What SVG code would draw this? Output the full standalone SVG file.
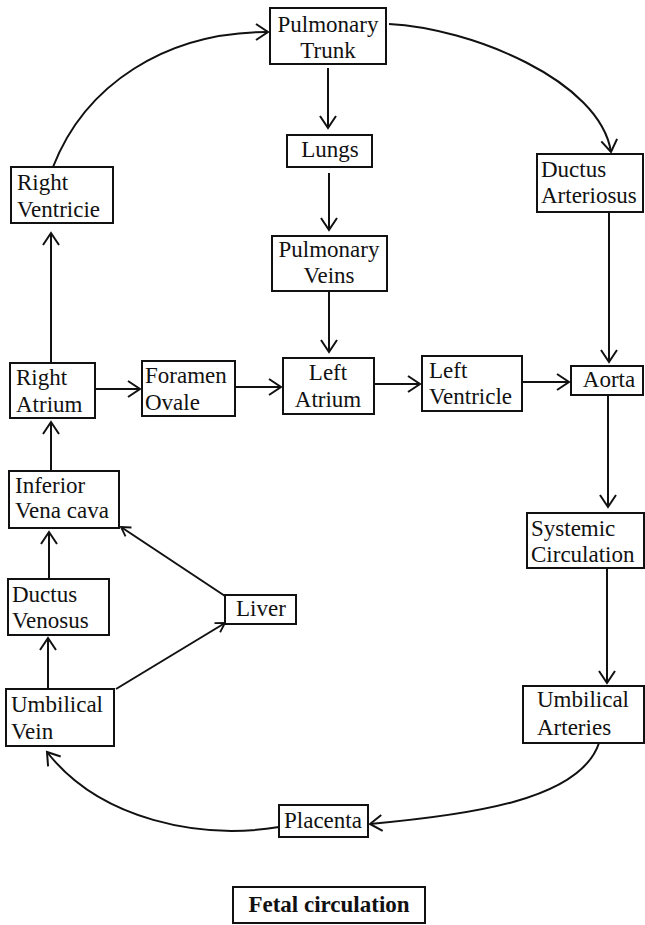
<svg xmlns="http://www.w3.org/2000/svg" width="645" height="925" viewBox="0 0 645 925">
<style>
.box{fill:#fff;stroke:#111;stroke-width:2}
.t{font-family:"Liberation Serif","Times New Roman",serif;font-size:23px;fill:#111}
.c{text-anchor:middle}
.b{font-weight:bold}
.ln{fill:none;stroke:#111;stroke-width:2}
</style>
<defs>
<marker id="ah" viewBox="0 0 12 16" refX="12" refY="8" markerWidth="12" markerHeight="16" markerUnits="userSpaceOnUse" orient="auto" overflow="visible">
<path d="M0,0 L12,8 L0,16" fill="none" stroke="#111" stroke-width="2"/>
</marker>
<marker id="as" viewBox="0 0 10 12" refX="10" refY="6" markerWidth="9" markerHeight="11" markerUnits="userSpaceOnUse" orient="auto" overflow="visible">
<path d="M0,0 L10,6 L0,12" fill="none" stroke="#111" stroke-width="2"/>
</marker>
</defs>
<rect width="645" height="925" fill="#fff"/>
<g id="connectors">
<path class="ln" d="M53,167 C85,85 165,32 268,32" marker-end="url(#ah)"/>
<path class="ln" d="M389,24 C470,28 600,80 611,152" marker-end="url(#ah)"/>
<line class="ln" x1="328" y1="68" x2="328" y2="128" marker-end="url(#ah)"/>
<line class="ln" x1="329" y1="173" x2="329" y2="230" marker-end="url(#ah)"/>
<line class="ln" x1="329" y1="291" x2="329" y2="352" marker-end="url(#ah)"/>
<line class="ln" x1="609" y1="212" x2="609" y2="362" marker-end="url(#ah)"/>
<line class="ln" x1="51" y1="363" x2="51" y2="233" marker-end="url(#ah)"/>
<line class="ln" x1="95" y1="389" x2="140" y2="389" marker-end="url(#ah)"/>
<line class="ln" x1="235" y1="387" x2="281" y2="387" marker-end="url(#ah)"/>
<line class="ln" x1="374" y1="384" x2="420" y2="384" marker-end="url(#ah)"/>
<line class="ln" x1="522" y1="382" x2="569" y2="382" marker-end="url(#ah)"/>
<line class="ln" x1="51" y1="471" x2="51" y2="422" marker-end="url(#ah)"/>
<line class="ln" x1="608" y1="395" x2="608" y2="507" marker-end="url(#ah)"/>
<line class="ln" x1="225" y1="596" x2="121" y2="527" marker-end="url(#as)"/>
<line class="ln" x1="49" y1="579" x2="49" y2="532" marker-end="url(#ah)"/>
<line class="ln" x1="48" y1="689" x2="48" y2="638" marker-end="url(#ah)"/>
<line class="ln" x1="116" y1="689" x2="225" y2="623" marker-end="url(#as)"/>
<line class="ln" x1="607" y1="568" x2="607" y2="683" marker-end="url(#ah)"/>
<path class="ln" d="M599,743 C580,800 470,815 370,824" marker-end="url(#ah)"/>
<path class="ln" d="M279,827 C200,840 100,820 47,752" marker-end="url(#ah)"/>
</g>
<g id="pulmonary-trunk"><rect class="box" x="270" y="8" width="116" height="56"/><text class="t c" x="328" y="32">Pulmonary</text><text class="t c" x="328" y="58">Trunk</text></g>
<g id="lungs"><rect class="box" x="287" y="135" width="85" height="32"/><text class="t c" x="330" y="157">Lungs</text></g>
<g id="pulmonary-veins"><rect class="box" x="272" y="236" width="115" height="55"/><text class="t c" x="329" y="257">Pulmonary</text><text class="t c" x="329" y="283">Veins</text></g>
<g id="right-ventricle"><rect class="box" x="11" y="167" width="102" height="56"/><text class="t" x="17" y="190">Right</text><text class="t" x="17" y="217">Ventricie</text></g>
<g id="ductus-arteriosus"><rect class="box" x="537" y="154" width="106" height="58"/><text class="t" x="541" y="177">Ductus</text><text class="t" x="541" y="203">Arteriosus</text></g>
<g id="right-atrium"><rect class="box" x="10" y="363" width="85" height="55"/><text class="t" x="16" y="385">Right</text><text class="t" x="16" y="412">Atrium</text></g>
<g id="foramen-ovale"><rect class="box" x="142" y="361" width="93" height="55"/><text class="t" x="145" y="383">Foramen</text><text class="t" x="145" y="410">Ovale</text></g>
<g id="left-atrium"><rect class="box" x="283" y="358" width="91" height="56"/><text class="t c" x="328" y="380">Left</text><text class="t c" x="328" y="407">Atrium</text></g>
<g id="left-ventricle"><rect class="box" x="422" y="356" width="100" height="55"/><text class="t" x="429" y="378">Left</text><text class="t" x="429" y="404">Ventricle</text></g>
<g id="aorta"><rect class="box" x="571" y="366" width="72" height="29"/><text class="t c" x="609" y="387">Aorta</text></g>
<g id="inferior-vena-cava"><rect class="box" x="9" y="471" width="110" height="57"/><text class="t" x="15" y="493">Inferior</text><text class="t" x="15" y="518">Vena cava</text></g>
<g id="systemic-circulation"><rect class="box" x="527" y="513" width="117" height="55"/><text class="t" x="531" y="536">Systemic</text><text class="t" x="531" y="562">Circulation</text></g>
<g id="ductus-venosus"><rect class="box" x="8" y="579" width="101" height="56"/><text class="t" x="12" y="602">Ductus</text><text class="t" x="12" y="628">Venosus</text></g>
<g id="liver"><rect class="box" x="225" y="595" width="71" height="29"/><text class="t" x="236" y="616">Liver</text></g>
<g id="umbilical-vein"><rect class="box" x="6" y="689" width="108" height="57"/><text class="t" x="11" y="712">Umbilical</text><text class="t" x="11" y="739">Vein</text></g>
<g id="umbilical-arteries"><rect class="box" x="523" y="686" width="121" height="57"/><text class="t" x="537" y="707">Umbilical</text><text class="t" x="537" y="735">Arteries</text></g>
<g id="placenta"><rect class="box" x="279" y="805" width="89" height="32"/><text class="t" x="284" y="828">Placenta</text></g>
<g id="title"><rect class="box" x="233" y="887" width="192" height="36"/><text class="t b c" x="329" y="912">Fetal circulation</text></g>
</svg>
